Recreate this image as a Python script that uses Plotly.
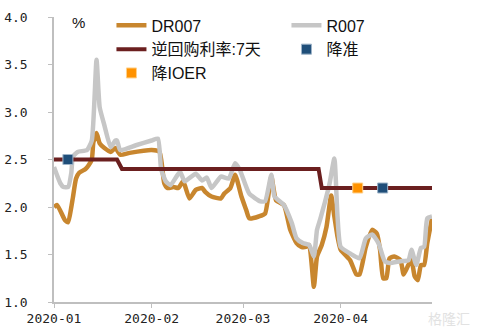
import plotly.graph_objects as go

# ---------------- data ----------------
dr007_dates = [
    "2020-01-01", "2020-01-02", "2020-01-04 12:00", "2020-01-05 12:00", "2020-01-06 12:00",
    "2020-01-07", "2020-01-08", "2020-01-09", "2020-01-11", "2020-01-12", "2020-01-13",
    "2020-01-13 12:00", "2020-01-14 12:00", "2020-01-15 12:00", "2020-01-17", "2020-01-19",
    "2020-01-20 12:00", "2020-01-22", "2020-01-25", "2020-02-01", "2020-02-03 12:00",
    "2020-02-05", "2020-02-06", "2020-02-08", "2020-02-09 12:00", "2020-02-11", "2020-02-13",
    "2020-02-15", "2020-02-17", "2020-02-18", "2020-02-20", "2020-02-23", "2020-02-24",
    "2020-02-26", "2020-02-27 12:00", "2020-02-29 12:00", "2020-03-02", "2020-03-03",
    "2020-03-06", "2020-03-08", "2020-03-10", "2020-03-11 12:00", "2020-03-14", "2020-03-16",
    "2020-03-18", "2020-03-19 12:00", "2020-03-21", "2020-03-22", "2020-03-23 12:00",
    "2020-03-24 12:00", "2020-03-26", "2020-03-27 12:00", "2020-03-29", "2020-03-30",
    "2020-03-31", "2020-04-01", "2020-04-04", "2020-04-06", "2020-04-07", "2020-04-09",
    "2020-04-11", "2020-04-12 12:00", "2020-04-13 12:00", "2020-04-14 12:00",
    "2020-04-15 12:00", "2020-04-16 12:00", "2020-04-18", "2020-04-20", "2020-04-21",
    "2020-04-22 12:00", "2020-04-23 12:00", "2020-04-24 12:00", "2020-04-25 12:00",
    "2020-04-26 12:00", "2020-04-27 12:00", "2020-04-28 12:00", "2020-04-30",
]
dr007_values = [
    2.00, 2.02, 1.86, 1.84, 2.00,
    2.10, 2.30, 2.36, 2.40, 2.44, 2.50,
    2.68, 2.78, 2.67, 2.62, 2.58,
    2.62, 2.55, 2.57, 2.60, 2.58,
    2.25, 2.20, 2.21, 2.20, 2.27, 2.09,
    2.18, 2.20, 2.16, 2.11, 2.09, 2.14,
    2.20, 2.34, 2.11, 1.97, 1.88,
    1.90, 1.93, 2.32, 2.07, 2.02, 1.76,
    1.62, 1.58, 1.58, 1.60, 1.16,
    1.48, 1.60, 1.79, 2.12, 1.90,
    1.69, 1.55, 1.44, 1.29, 1.29, 1.58,
    1.76, 1.72, 1.55, 1.25,
    1.25, 1.46, 1.48, 1.44, 1.29,
    1.39, 1.44, 1.27, 1.23,
    1.39, 1.39, 1.62, 1.88,
]

r007_dates = [
    "2020-01-01", "2020-01-03", "2020-01-04", "2020-01-05 12:00", "2020-01-06 12:00",
    "2020-01-07", "2020-01-08 12:00", "2020-01-11 12:00", "2020-01-13", "2020-01-14 12:00",
    "2020-01-15 12:00", "2020-01-17", "2020-01-19", "2020-01-20 12:00", "2020-01-21",
    "2020-01-22", "2020-01-27", "2020-02-01", "2020-02-03", "2020-02-04", "2020-02-05 12:00",
    "2020-02-07", "2020-02-10", "2020-02-11 12:00", "2020-02-15", "2020-02-17",
    "2020-02-18 12:00", "2020-02-20", "2020-02-23", "2020-02-25 12:00", "2020-02-27 12:00",
    "2020-02-29", "2020-03-03", "2020-03-06 12:00", "2020-03-08", "2020-03-10", "2020-03-11",
    "2020-03-14", "2020-03-16 12:00", "2020-03-18", "2020-03-20", "2020-03-22",
    "2020-03-23 12:00", "2020-03-24 12:00", "2020-03-25 12:00", "2020-03-27",
    "2020-03-28 12:00", "2020-03-30", "2020-03-31", "2020-04-01", "2020-04-04", "2020-04-07",
    "2020-04-09", "2020-04-11", "2020-04-13", "2020-04-15", "2020-04-16 12:00", "2020-04-20",
    "2020-04-22 12:00", "2020-04-23 12:00", "2020-04-25", "2020-04-26 12:00",
    "2020-04-27 12:00", "2020-04-28 12:00", "2020-04-30",
]
r007_values = [
    2.42, 2.25, 2.21, 2.21, 2.36,
    2.53, 2.58, 2.60, 2.70, 3.55,
    3.05, 2.86, 2.63, 2.70, 2.70,
    2.60, 2.65, 2.70, 2.72, 2.40, 2.27,
    2.23, 2.37, 2.27, 2.35, 2.28,
    2.31, 2.20, 2.32, 2.30, 2.46,
    2.39, 2.14, 2.06, 2.06, 2.34, 2.11,
    2.02, 1.83, 1.67, 1.62, 1.60,
    1.48, 1.76, 1.87, 2.05,
    2.25, 2.51, 1.90, 1.58, 1.51, 1.46,
    1.67, 1.71, 1.62, 1.43, 1.41, 1.43,
    1.44, 1.55, 1.39, 1.57,
    1.58, 1.88, 1.90,
]

repo_dates = ["2020-01-01", "2020-01-21", "2020-01-22 14:00", "2020-03-25", "2020-03-26", "2020-04-30"]
repo_values = [2.50, 2.50, 2.40, 2.40, 2.20, 2.20]

rrr_dates = ["2020-01-05 10:00", "2020-04-14 08:00"]
rrr_values = [2.50, 2.20]

ioer_dates = ["2020-04-06 10:00"]
ioer_values = [2.20]

y_ticks = [1.0, 1.5, 2.0, 2.5, 3.0, 3.5, 4.0]
x_tick_dates = ["2020-01-01", "2020-02-01", "2020-03-01", "2020-04-01"]
x_tick_labels = ["2020-01", "2020-02", "2020-03", "2020-04"]

# ---------------- figure ----------------
fig = go.Figure()
fig.add_trace(go.Scatter(x=dr007_dates, y=dr007_values, mode="lines", name="DR007",
                         line=dict(color="#C8862E", width=4.5, shape="spline", smoothing=0.5)))
fig.add_trace(go.Scatter(x=r007_dates, y=r007_values, mode="lines", name="R007",
                         line=dict(color="#C6C6C6", width=4.5, shape="spline", smoothing=0.5)))
fig.add_trace(go.Scatter(x=repo_dates, y=repo_values, mode="lines", name="逆回购利率:7天",
                         line=dict(color="#6B1F1F", width=4)))
fig.add_trace(go.Scatter(x=rrr_dates, y=rrr_values, mode="markers", name="降准",
                         marker=dict(symbol="square", size=10, color="#1F4E79",
                                     line=dict(color="#9DB3C8", width=1))))
fig.add_trace(go.Scatter(x=ioer_dates, y=ioer_values, mode="markers", name="降IOER",
                         marker=dict(symbol="square", size=10, color="#FF9200",
                                     line=dict(color="#FFD08A", width=1))))

axis_col = "#BFBFBF"
fig.update_layout(
    template="none",
    width=479, height=335,
    margin=dict(l=54, r=47, t=17, b=33, autoexpand=False),
    paper_bgcolor="white", plot_bgcolor="white",
    font=dict(family="Liberation Sans, Noto Sans CJK SC", size=16, color="#111111"),
    showlegend=True,
    legend=dict(orientation="h", x=0.152, y=1.03, xanchor="left", yanchor="top",
                entrywidth=130, entrywidthmode="pixels", bgcolor="rgba(0,0,0,0)",
                font=dict(family="Liberation Sans, Noto Sans CJK SC", size=16, color="#111111"),
                tracegroupgap=0, itemsizing="trace"),
    xaxis=dict(type="date", range=["2020-01-01", "2020-04-30"], automargin=False,
               tickvals=x_tick_dates, ticktext=x_tick_labels,
               showgrid=False, zeroline=False, showline=True, linecolor=axis_col, linewidth=1.5,
               ticks="outside", ticklen=4, tickcolor=axis_col, tickwidth=1,
               tickfont=dict(family="DejaVu Sans Mono", size=13, color="#222222")),
    yaxis=dict(range=[1.0, 4.0], tickvals=y_ticks, tickformat=".1f", automargin=False,
               showgrid=False, zeroline=False, showline=True, linecolor=axis_col, linewidth=1.5,
               ticks="outside", ticklen=4, tickcolor=axis_col, tickwidth=1,
               ticklabelstandoff=18,
               tickfont=dict(family="DejaVu Sans Mono", size=13, color="#222222")),
)

fig.add_annotation(text="%", xref="paper", yref="paper", x=(78 - 54) / 378, y=1.0 - (22 - 17) / 285,
                   xanchor="center", yanchor="middle", showarrow=False,
                   font=dict(family="Liberation Sans", size=15, color="#111111"))
fig.add_annotation(text="格隆汇", xref="paper", yref="paper", x=(449 - 54) / 378, y=-(318 - 302) / 285,
                   xanchor="center", yanchor="middle", showarrow=False,
                   font=dict(family="Noto Sans CJK SC", size=14, color="#E2E2E2"))

fig.write_html("out.html")
